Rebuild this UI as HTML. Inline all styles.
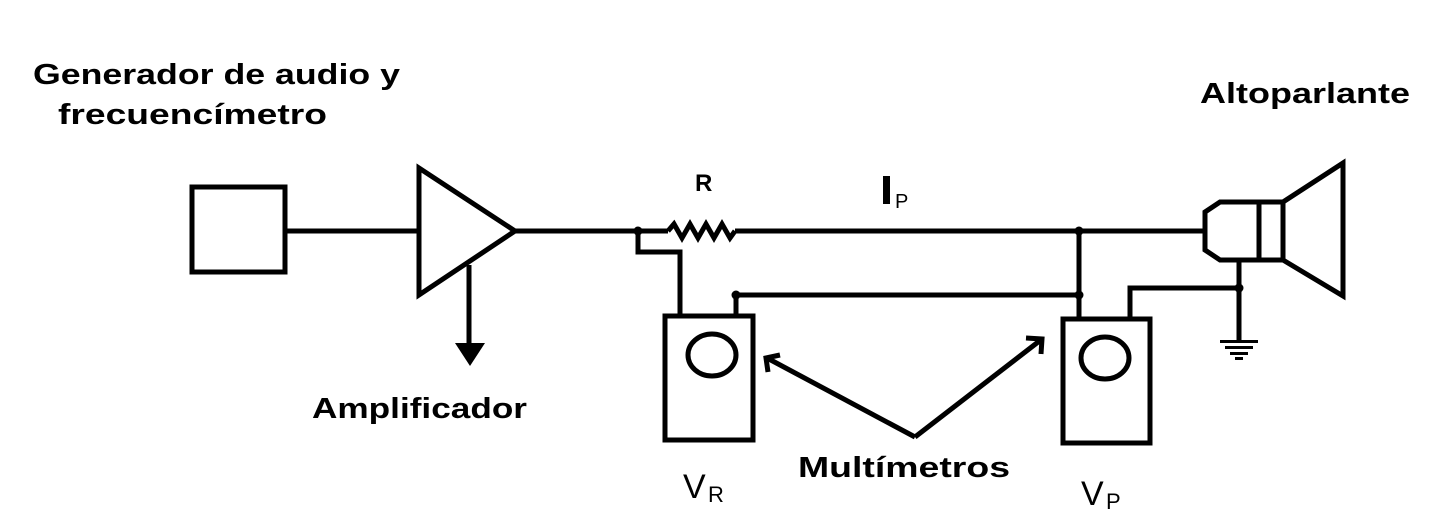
<!DOCTYPE html>
<html><head><style>body{margin:0;background:#fff}svg{display:block}</style></head><body>
<svg width="1430" height="520" viewBox="0 0 1430 520" xmlns="http://www.w3.org/2000/svg" font-family="Liberation Sans, Arial, sans-serif">
<rect width="1430" height="520" fill="#fff"/>
<g fill="#000" font-weight="bold" font-size="29">
<text x="33" y="84" textLength="367" lengthAdjust="spacingAndGlyphs">Generador de audio y</text>
<text x="58" y="124" textLength="269" lengthAdjust="spacingAndGlyphs">frecuencímetro</text>
<text x="1200" y="103" textLength="210" lengthAdjust="spacingAndGlyphs">Altoparlante</text>
<text x="312" y="418" textLength="215" lengthAdjust="spacingAndGlyphs">Amplificador</text>
<text x="798" y="477" textLength="212" lengthAdjust="spacingAndGlyphs">Multímetros</text>
<text x="695" y="191" font-size="24">R</text>
<rect x="883" y="176" width="7" height="28"/>
</g>
<g fill="#000" font-size="22">
<text x="895" y="208" font-size="20">P</text>
<text x="683" y="498" font-size="34" font-weight="300">V</text><text x="708" y="502" font-size="22">R</text>
<text x="1081" y="505" font-size="34">V</text><text x="1106" y="509" font-size="22">P</text>
</g>
<g stroke="#000" stroke-width="5" fill="none">
<rect x="192" y="187" width="93" height="85"/>
<line x1="285" y1="231" x2="419" y2="231"/>
<polygon points="419,168 419,295 515,231"/>
<line x1="469" y1="265" x2="469" y2="350"/>
<line x1="515" y1="231" x2="668" y2="231"/>
<polyline points="668,231 674,224 682,238 690,224 698,238 706,224 714,238 722,224 730,238 735,231"/>
<line x1="735" y1="231" x2="1205" y2="231"/>
<polyline points="638,231 638,252 680,252 680,318"/>
<line x1="1079" y1="231" x2="1079" y2="320"/>
<polyline points="736,318 736,295 1079,295"/>
<polyline points="1130,320 1130,288 1239,288"/>
<line x1="1239" y1="260" x2="1239" y2="341"/>
<rect x="665" y="316" width="88" height="124"/>
<rect x="1063" y="319" width="87" height="124"/>
<ellipse cx="712" cy="355" rx="24" ry="21"/>
<ellipse cx="1105" cy="358" rx="24" ry="21"/>
<polyline points="915,437 767,358"/>
<polyline points="915,437 1042,339"/>
<polyline points="768,372 766,358 780,355"/>
<polyline points="1026,338 1042,339 1041,354"/>
<path d="M1283,202 L1220,202 L1205,212 L1205,250 L1220,260 L1283,260 Z"/>
<line x1="1259" y1="202" x2="1259" y2="260"/>
<polygon points="1283,202 1343,163 1343,296 1283,260"/>
</g>
<g fill="#000">
<polygon points="455,343 485,343 470,366"/>
<circle cx="638" cy="231" r="4.5"/><circle cx="1079" cy="231" r="4.5"/>
<circle cx="736" cy="295" r="4.5"/><circle cx="1079" cy="295" r="4.5"/>
<circle cx="1239" cy="288" r="4.5"/>
<rect x="1220" y="340" width="38" height="3"/>
<rect x="1225" y="346" width="28" height="3"/>
<rect x="1230" y="352" width="18" height="3"/>
<rect x="1235" y="357" width="8" height="3"/>
</g>
</svg>
</body></html>
